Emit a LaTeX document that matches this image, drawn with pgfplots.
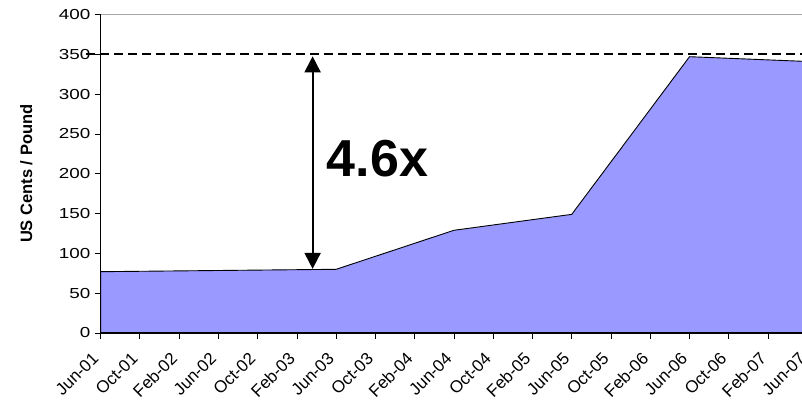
\documentclass[border=0pt]{standalone}
\usepackage{pgfplots}
\pgfplotsset{compat=1.18}
\usepackage{fontspec}
\setmainfont{Liberation Sans}
\usetikzlibrary{arrows.meta}
\definecolor{areafill}{HTML}{9999FF}

\begin{document}
\begin{tikzpicture}[x=1pt,y=1pt]
\path[use as bounding box] (-100.6,-71) rectangle (701.4,333);
\begin{axis}[
  at={(0,0)}, anchor=south west,
  scale only axis, width=706.7pt, height=318.5pt,
  xmin=0, xmax=18, ymin=0, ymax=400,
  axis x line*=bottom, axis y line*=left,
  axis on top, clip=false,
  x axis line style={black, line width=1.3pt},
  y axis line style={black, line width=1pt},
  xtick={0,...,18},
  xticklabels={Jun-01,Oct-01,Feb-02,Jun-02,Oct-02,Feb-03,Jun-03,Oct-03,Feb-04,Jun-04,Oct-04,Feb-05,Jun-05,Oct-05,Feb-06,Jun-06,Oct-06,Feb-07,Jun-07},
  ytick={0,50,...,400},
  tick align=outside, major tick length=6pt,
  tick style={black, line width=0.8pt},
  /pgf/number format/assume math mode=true,
  xticklabel style={xshift=-9.5pt, yshift=-12pt, rotate=45, anchor=north east, inner sep=0pt,
    font=\fontsize{17}{17}\selectfont},
  yticklabel style={font=\fontsize{14.5}{14.5}\selectfont, xscale=1.3, anchor=east, inner sep=0pt, xshift=-3pt},
  ylabel={\bfseries US Cents / Pound},
  ylabel style={at={(axis description cs:-0.105,0.5)}, anchor=center,
    font=\fontsize{16.5}{16.5}\selectfont},
]
% price area
\addplot[draw=black, line width=0.9pt, fill=areafill]
  coordinates {(0,77) (6,80) (9,129) (12,149) (15,347) (18,341)} \closedcycle;
% reference level at 350
\addplot[black, line width=2pt, dash pattern=on 9pt off 5pt]
  coordinates {(-0.36,350) (18,350)};
% rise from the 2003 level to the peak
\addplot[black, line width=1.8pt,
  {Triangle[length=16pt,width=16pt]}-{Triangle[length=16pt,width=16pt]}]
  coordinates {(5.40,347.5) (5.40,80.5)};
\node at (axis cs:7.05,219) {\fontsize{52}{52}\selectfont\bfseries 4.6x};
\draw[gray!70, line width=1pt] (rel axis cs:0,1) -- (rel axis cs:1,1);
\end{axis}
\end{tikzpicture}
\end{document}
